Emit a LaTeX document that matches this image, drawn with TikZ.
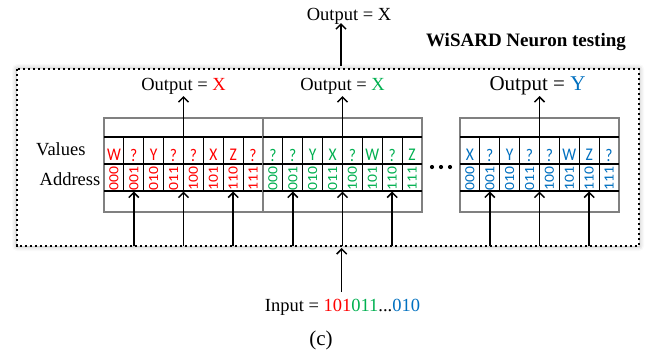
\documentclass[tikz,border=0pt]{standalone}
\usepackage{fontspec}
\usepackage{graphicx}
\setmainfont{Liberation Serif}
\newfontfamily\cellfont{Carlito}
\usetikzlibrary{arrows.meta,shadows.blur}
\definecolor{wred}{HTML}{FF0000}
\definecolor{wgreen}{HTML}{00B050}
\definecolor{wblue}{HTML}{0070C0}
\definecolor{framegray}{HTML}{808080}

\tikzset{
  outerframe/.style={draw=black, line width=2.4pt, dash pattern=on 2.4pt off 2.6pt, fill=white,
    blur shadow={shadow xshift=0pt, shadow yshift=0pt, shadow blur radius=5pt, shadow opacity=35}},
  neuronframe/.style={draw=framegray, line width=1.8pt},
  rowline/.style={draw=black, line width=2pt},
  cellline/.style={draw=black, line width=0.9pt},
  sig/.style={line width=1.5pt, -{Straight Barb[length=5pt,width=10pt,line width=1.5pt]}},
  serif/.style={font=\fontsize{18.5}{20}\selectfont, inner sep=0pt},
  valtext/.style={inner sep=0pt, font=\cellfont\fontsize{15.5}{16}\selectfont},
  addrtext/.style={inner sep=0pt, font=\cellfont\fontsize{14}{15}\selectfont},
}

% one neuron: left edge, colour, box index, list of stored values
\newcommand\wisardneuron[4]{%
  \def\xl{#1}\def\cw{19.875}
  \draw[neuronframe] (\xl,118.3) rectangle ++(159,93.4);
  \draw[rowline] (\xl,136.7) -- ++(159,0);
  \draw[rowline] (\xl,164.3) -- ++(159,0);
  \draw[rowline] (\xl,191) -- ++(159,0);
  \foreach \i in {1,...,7}{
    \draw[cellline] (\xl+\i*\cw,136.7) -- (\xl+\i*\cw,191);
  }
  \foreach \v [count=\i from 0] in {#4}{
    \node[valtext, text=#2] (v-#3-\i) at (\xl+\i*\cw+0.5*\cw,155) {\scalebox{1}[1.15]{\v}};
  }
  \foreach \a [count=\i from 0] in {000,001,010,011,100,101,110,111}{
    \node[addrtext, text=#2] (a-#3-\i) at (\xl+\i*\cw+0.5*\cw,178.3) {\rotatebox{90}{\scalebox{1.12}[1]{\a}}};
  }
  % input lines: address bits enter at cells 001, the middle, and 110
  \foreach \k/\off in {1/1.5,2/4,3/6.5}{
    \coordinate (in-#3-\k) at (\xl+\off*\cw,246);
    \coordinate (tg-#3-\k) at (\xl+\off*\cw,191.5);
    \draw[sig] (in-#3-\k) -- (tg-#3-\k);
  }
  \coordinate (os-#3) at (\xl+4*\cw,164.3);
  \coordinate (ot-#3) at (\xl+4*\cw,96);
  \draw[sig] (os-#3) -- (ot-#3);
}

\begin{document}
\begin{tikzpicture}[x=1pt,y=-1pt]
\useasboundingbox (0,0) rectangle (653,360);

% outer dotted frame of the testing stage
\draw[outerframe] (17,69) rectangle (639,246);

\node[serif, font=\bfseries\fontsize{19}{20}\selectfont, anchor=base] (title) at (526,46) {WiSARD Neuron testing};

\wisardneuron{104}{wred}{1}{W,?,Y,?,?,X,Z,?}
\wisardneuron{263}{wgreen}{2}{?,?,Y,X,?,W,?,Z}
\wisardneuron{460}{wblue}{3}{X,?,Y,?,?,W,Z,?}

\node[serif, anchor=base] (out1) at (183.5,90) {Output = \textcolor{wred}{X}};
\node[serif, anchor=base] (out2) at (342.5,90) {Output = \textcolor{wgreen}{X}};
\node[serif, font=\fontsize{21}{22}\selectfont, anchor=base] (out3) at (537.5,90.5) {Output = \textcolor{wblue}{Y}};

\node[serif, anchor=base west] (values) at (36,155) {Values};
\node[serif, anchor=base east] (address) at (100.5,185.7) {Address};

% ellipsis between the second and the last neuron
\foreach \dx [count=\j] in {432,441,450}{
  \node[circle, fill=black, inner sep=0pt, minimum size=4.2pt] (dot\j) at (\dx,167) {};
}

% final output
\node[serif, anchor=base] (final) at (349,20.5) {Output = X};
\coordinate (fs) at (341,66);
\coordinate (ft) at (341,23);
\draw[sig] (fs) -- (ft);

% input pattern
\node[serif, anchor=base] (input) at (342.5,311.7) {Input = \textcolor{wred}{101}\textcolor{wgreen}{011}...\textcolor{wblue}{010}};
\coordinate (is) at (341.7,292);
\coordinate (it) at (341.7,248);
\draw[sig] (is) -- (it);

\node[serif, font=\fontsize{21}{22}\selectfont, anchor=base] (caption) at (321,345) {(c)};
\end{tikzpicture}
\end{document}
